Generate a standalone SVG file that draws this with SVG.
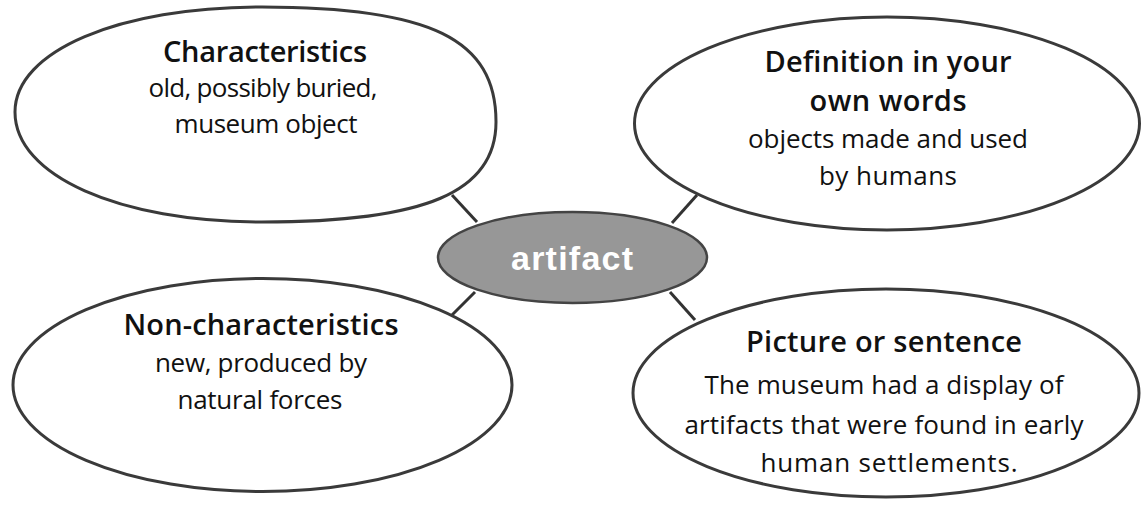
<svg xmlns="http://www.w3.org/2000/svg" width="1146" height="506" viewBox="0 0 1146 506">
<style>
.bubble{fill:#ffffff;stroke:#3a3a3a;stroke-width:3}
.hub{fill:#979797;stroke:#444444;stroke-width:2.5}
.link{stroke:#333333;stroke-width:3;fill:none}
.title{font-family:"Open Sans","Liberation Sans",sans-serif;font-size:29px;font-weight:600;fill:#111111;text-anchor:middle}
.body{font-family:"Open Sans","Liberation Sans",sans-serif;font-size:26px;fill:#111111;text-anchor:middle}
.hubtext{font-family:"Liberation Sans","DejaVu Sans",sans-serif;font-size:34px;font-weight:bold;fill:#ffffff;text-anchor:middle}
</style>
<rect width="1146" height="506" fill="#ffffff"/>
<g id="connectors">
<line class="link" x1="452" y1="195" x2="477" y2="222"/>
<line class="link" x1="697" y1="195" x2="672" y2="223"/>
<line class="link" x1="475" y1="292" x2="452" y2="315"/>
<line class="link" x1="670" y1="292" x2="695" y2="320"/>
</g>
<g id="characteristics">
<path class="bubble" d="M15,112 C15,51.1 118.7,7 262,7 C430.5,7 496,39.2 496,122 C496,192 425.8,222 262,222 C118.7,222 15,175.8 15,112 Z"/>
<text class="title" x="265" y="62" textLength="204">Characteristics</text>
<text class="body" x="263" y="97" textLength="229">old, possibly buried,</text>
<text class="body" x="266" y="133" textLength="183">museum object</text>
</g>
<g id="definition">
<ellipse class="bubble" cx="887" cy="123.5" rx="252.5" ry="106.5"/>
<text class="title" x="888" y="72" textLength="247">Definition in your</text>
<text class="title" x="888" y="111" textLength="157">own words</text>
<text class="body" x="888" y="148" textLength="280">objects made and used</text>
<text class="body" x="888" y="185" textLength="138">by humans</text>
</g>
<g id="non-characteristics">
<ellipse class="bubble" cx="262.5" cy="385" rx="249.5" ry="106.5"/>
<text class="title" x="261" y="335" textLength="275">Non-characteristics</text>
<text class="body" x="261" y="372" textLength="212">new, produced by</text>
<text class="body" x="260" y="409" textLength="165">natural forces</text>
</g>
<g id="picture">
<ellipse class="bubble" cx="886" cy="393" rx="253" ry="104"/>
<text class="title" x="884" y="352" textLength="276">Picture or sentence</text>
<text class="body" x="884" y="394" textLength="359">The museum had a display of</text>
<text class="body" x="884" y="434" textLength="399">artifacts that were found in early</text>
<text class="body" x="889" y="472" textLength="257">human settlements.</text>
</g>
<g id="artifact">
<ellipse class="hub" cx="572.5" cy="257.5" rx="134.5" ry="45.5"/>
<text class="hubtext" x="572" y="270" textLength="122">artifact</text>
</g>
</svg>
